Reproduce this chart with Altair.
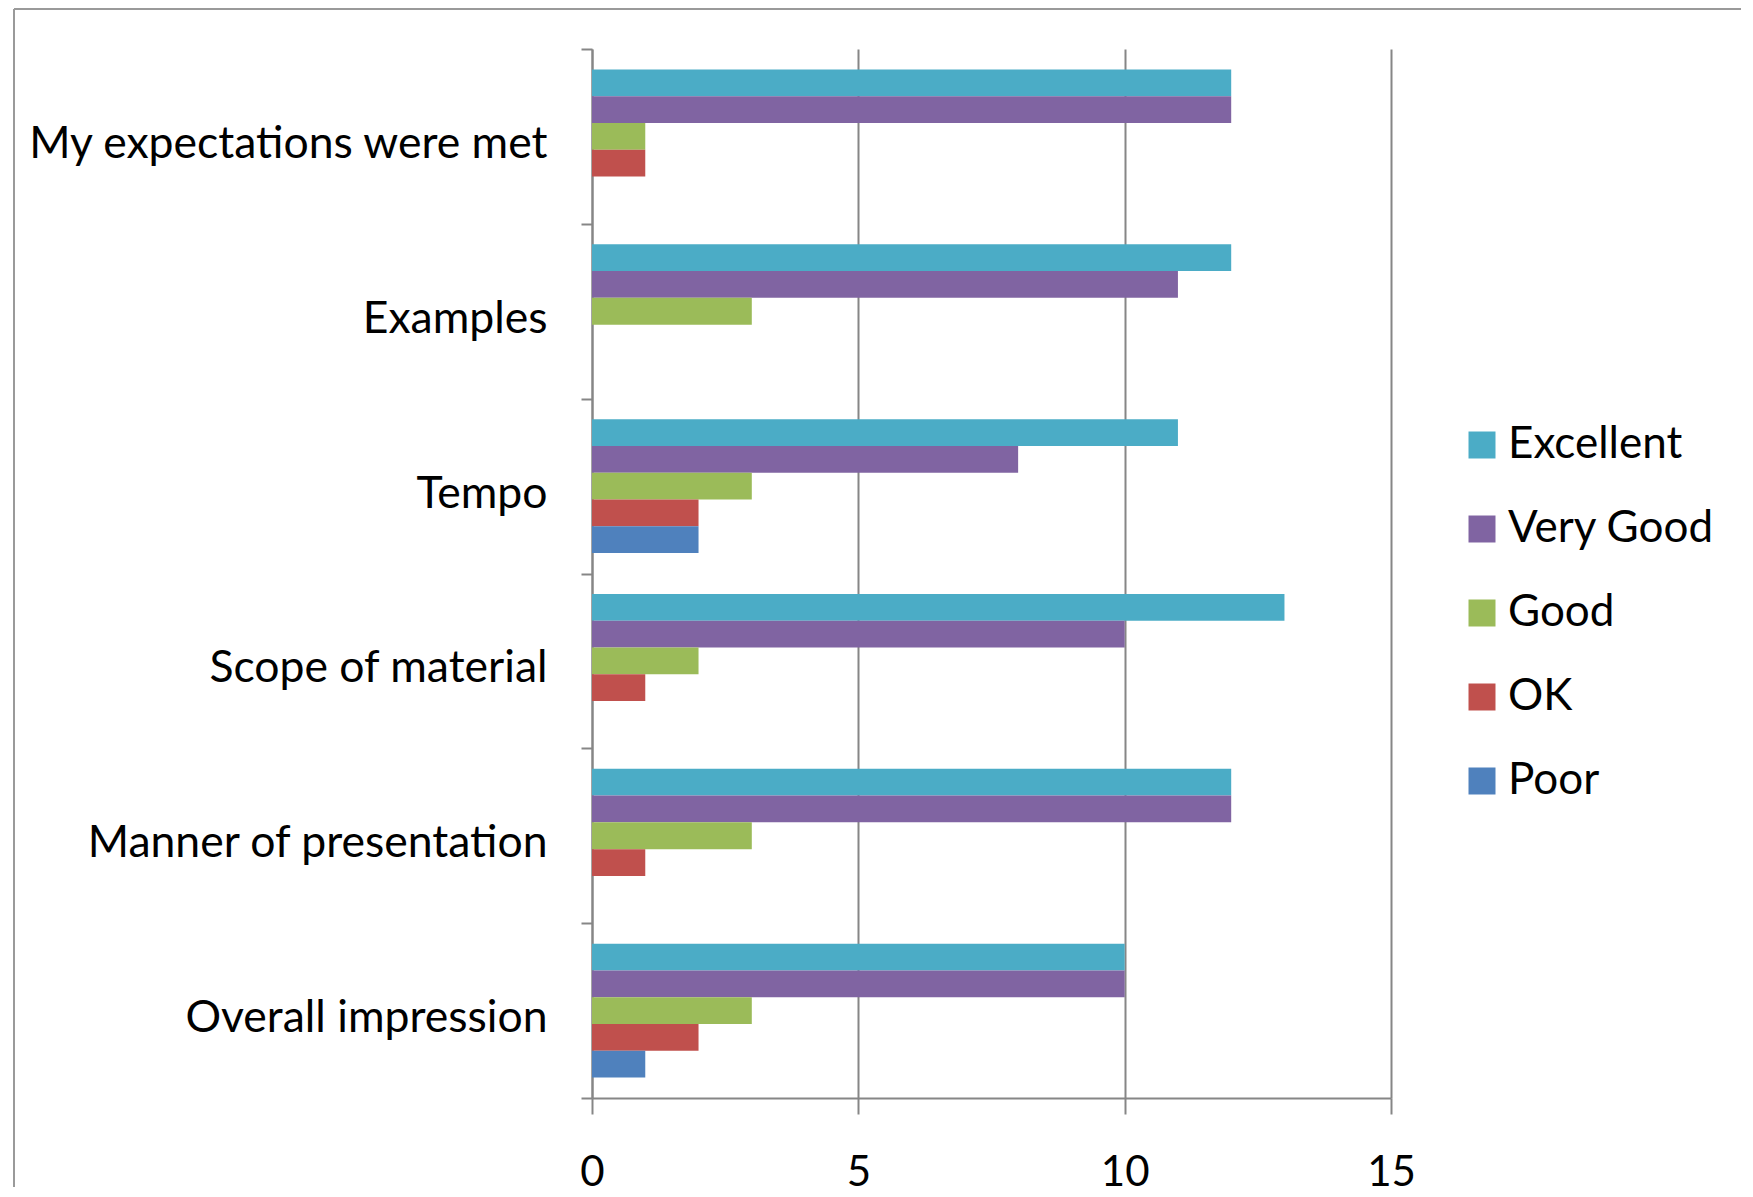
import altair as alt
import pandas as pd

categories = ["My expectations were met", "Examples", "Tempo", "Scope of material",
              "Manner of presentation", "Overall impression"]
ratings = ["Excellent", "Very Good", "Good", "OK", "Poor"]
colors = ["#4BACC6", "#8064A2", "#9BBB59", "#C0504D", "#4F81BD"]

excellent = [12, 12, 11, 13, 12, 10]
very_good = [12, 11, 8, 10, 12, 10]
good = [1, 3, 3, 2, 3, 3]
ok = [1, 0, 2, 1, 1, 2]
poor = [0, 0, 2, 0, 0, 1]

x_ticks = [0, 5, 10, 15]

series = [excellent, very_good, good, ok, poor]
rows = []
for r, vals in zip(ratings, series):
    for c, v in zip(categories, vals):
        rows.append({"category": c, "rating": r, "value": v})
df = pd.DataFrame(rows)

FONT = "Lato"
GREY = "#868686"

bars = alt.Chart(df).mark_bar().encode(
    y=alt.Y("category:N", sort=categories,
            scale=alt.Scale(paddingInner=0, paddingOuter=0),
            axis=alt.Axis(title=None, tickBand="extent", labelFontSize=44.5, labelFont=FONT,
                          labelColor="black", labelPadding=34, tickSize=11, tickColor=GREY,
                          tickWidth=2, domainColor=GREY, domainWidth=2, grid=False,
                          labelLimit=0, labelOffset=8)),
    yOffset=alt.YOffset("rating:N", sort=ratings,
                        scale=alt.Scale(paddingInner=0, paddingOuter=0.765)),
    x=alt.X("value:Q", scale=alt.Scale(domain=[0, 15], nice=False),
            axis=alt.Axis(values=x_ticks, title=None, grid=True, gridColor=GREY, gridWidth=2,
                          tickSize=16, tickColor=GREY, tickWidth=2, domainColor=GREY,
                          domainWidth=2, labelPadding=38, labelFontSize=42, labelFont=FONT,
                          labelColor="black", format="d", labelFlush=False)),
    color=alt.Color("rating:N", sort=ratings,
                    scale=alt.Scale(domain=ratings, range=colors),
                    legend=alt.Legend(title=None, orient="none", legendX=868, legendY=374,
                                      symbolType="square", symbolSize=729, symbolStrokeWidth=0,
                                      labelFontSize=44, labelFont=FONT, labelColor="black",
                                      labelOffset=4, rowPadding=40, padding=0, labelLimit=0)),
)

frame_df = pd.DataFrame({"a": [0]})
left_line = alt.Chart(frame_df).mark_rule(color="#9a9a9a", strokeWidth=2).encode(
    x=alt.value(-578), y=alt.value(-40), y2=alt.value(1138))
top_line = alt.Chart(frame_df).mark_rule(color="#9a9a9a", strokeWidth=2).encode(
    x=alt.value(-578), x2=alt.value(1149), y=alt.value(-40))

chart = alt.layer(bars, left_line, top_line).properties(
    width=799, height=1049,
    padding={"left": 5, "top": 0, "right": 0, "bottom": 0},
).configure_view(strokeWidth=0)

chart.save("out.html", embed_options={"renderer": "svg", "actions": False})
